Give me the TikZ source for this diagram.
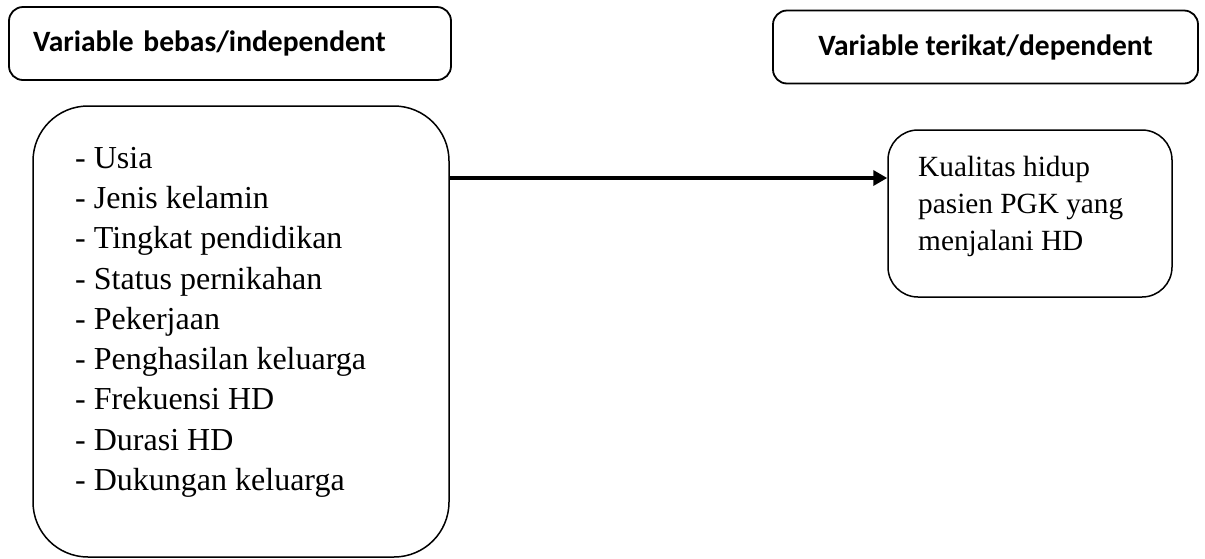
\documentclass[tikz,border=0pt]{standalone}
\usepackage{fontspec}
\setmainfont{Liberation Serif}
\newfontfamily\headfont{Carlito}
\usetikzlibrary{arrows.meta,positioning}

\begin{document}
\begin{tikzpicture}[x=1pt,y=-1pt,
 headbox/.style={draw,line width=1.8pt,rounded corners=14pt,minimum height=73pt,inner ysep=0pt,
   font=\headfont\bfseries\fontsize{29.5}{33}\selectfont},
 varbox/.style={draw,line width=1.5pt,inner sep=0pt},
 bodytext/.style={align=left,inner sep=0pt}]
\useasboundingbox (0,0) rectangle (1205,558);
% headers
\node[headbox,inner xsep=24pt,text width=394pt,align=left] (hbebas) at (230,43.5){Variable bebas/independent};
\node[headbox,minimum width=425pt,align=center] (hterikat) at (985.5,47){Variable terikat/dependent};
% variable boxes
\node[varbox,rounded corners=55pt,minimum width=416pt,minimum height=451pt] (bebas) at (241,331.5){};
\node[bodytext,anchor=base west,font=\fontsize{32}{40.3}\selectfont] (listbebas) at (75,490.5)
 {- Usia\\- Jenis kelamin\\- Tingkat pendidikan\\- Status pernikahan\\- Pekerjaan\\- Penghasilan keluarga\\- Frekuensi HD\\- Durasi HD\\- Dukungan keluarga};
\node[varbox,rounded corners=30pt,minimum width=284pt,minimum height=167pt] (terikat) at (1030,213.5){};
\node[bodytext,anchor=base west,font=\fontsize{29.3}{36.7}\selectfont] (listterikat) at (918,250)
 {Kualitas hidup\\pasien PGK yang\\menjalani HD};
% arrow
\draw[line width=4pt,-{Triangle[length=14pt,width=15pt]}] (bebas.east |- 0,178) -- (terikat.west |- 0,178);
\end{tikzpicture}
\end{document}
